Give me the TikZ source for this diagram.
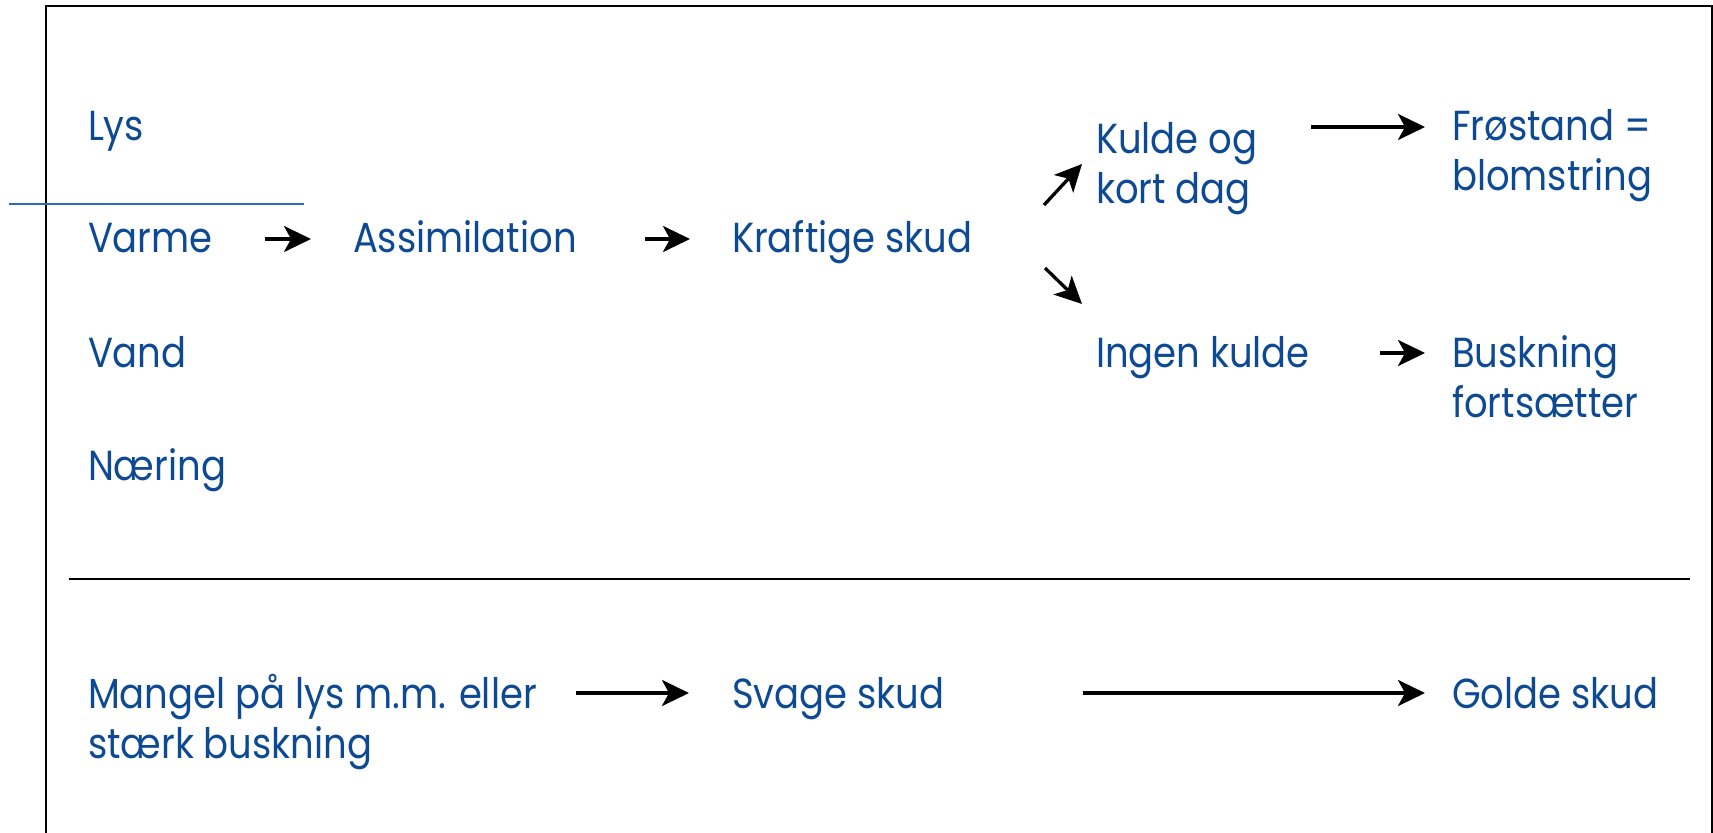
\documentclass[tikz,border=0pt]{standalone}
\usepackage{fontspec}
\setmainfont{Poppins}[FakeStretch=0.88]
\usetikzlibrary{arrows.meta}
\definecolor{txtblue}{RGB}{14,74,148}
\definecolor{lineblue}{RGB}{47,107,176}
\tikzset{
  lbl/.style={anchor=base west, inner sep=0pt, outer sep=0pt, text=txtblue, align=left,
    font=\fontsize{21}{25}\selectfont},
  arr/.style={line width=1.65pt, -{Stealth[length=13.5pt,width=13pt,inset=3.5pt]}},
}
\begin{document}
\begin{tikzpicture}[x=0.5pt,y=-0.5pt]
\useasboundingbox (0,0) rectangle (1713,833);
% frame
\draw[line width=1pt] (45.5,840) -- (45.5,5.7) -- (1711.5,5.7) -- (1711.5,840);
\draw[line width=1.2pt] (69,579) -- (1690,579);
\draw[lineblue, line width=1pt] (9,204) -- (304,204);
% nodes (multi-line nodes are placed by the baseline of their last line)
\node[lbl] (lys) at (88,141) {Lys};
\node[lbl] (varme) at (88,253) {Varme};
\node[lbl] (vand) at (88,368) {Vand};
\node[lbl] (naering) at (88,481) {Næring};
\node[lbl] (assim) at (353,253) {Assimilation};
\node[lbl] (kraft) at (732,253) {Kraftige skud};
\node[lbl] (kulde) at (1096,204) {Kulde og\\kort dag};
\node[lbl] (frost) at (1452,191) {Frøstand =\\blomstring};
\node[lbl] (ingen) at (1096,368) {Ingen kulde};
\node[lbl] (busk) at (1452,418) {Buskning\\fortsætter};
\node[lbl] (mangel) at (88,758) {Mangel på lys m.m. eller\\stærk buskning};
\node[lbl] (svage) at (732,708) {Svage skud};
\node[lbl] (golde) at (1452,708) {Golde skud};
% arrows
\draw[arr] ([shift={(177,-14)}]varme.base west) -- ([shift={(-42,-14)}]assim.base west);
\draw[arr] ([shift={(292,-14)}]assim.base west) -- ([shift={(-42,-14)}]kraft.base west);
\draw[arr] ([shift={(312,-48)}]kraft.base west) -- ([shift={(-14,-40)}]kulde.base west);
\draw[arr] ([shift={(313,15)}]kraft.base west) -- ([shift={(-14,-64)}]ingen.base west);
\draw[arr] ([shift={(215,-77)}]kulde.base west) -- ([shift={(-27,-64)}]frost.base west);
\draw[arr] ([shift={(284,-15)}]ingen.base west) -- ([shift={(-27,-65)}]busk.base west);
\draw[arr] ([shift={(488,-65)}]mangel.base west) -- ([shift={(-43,-15)}]svage.base west);
\draw[arr] ([shift={(351,-15)}]svage.base west) -- ([shift={(-27,-15)}]golde.base west);
\end{tikzpicture}
\end{document}
